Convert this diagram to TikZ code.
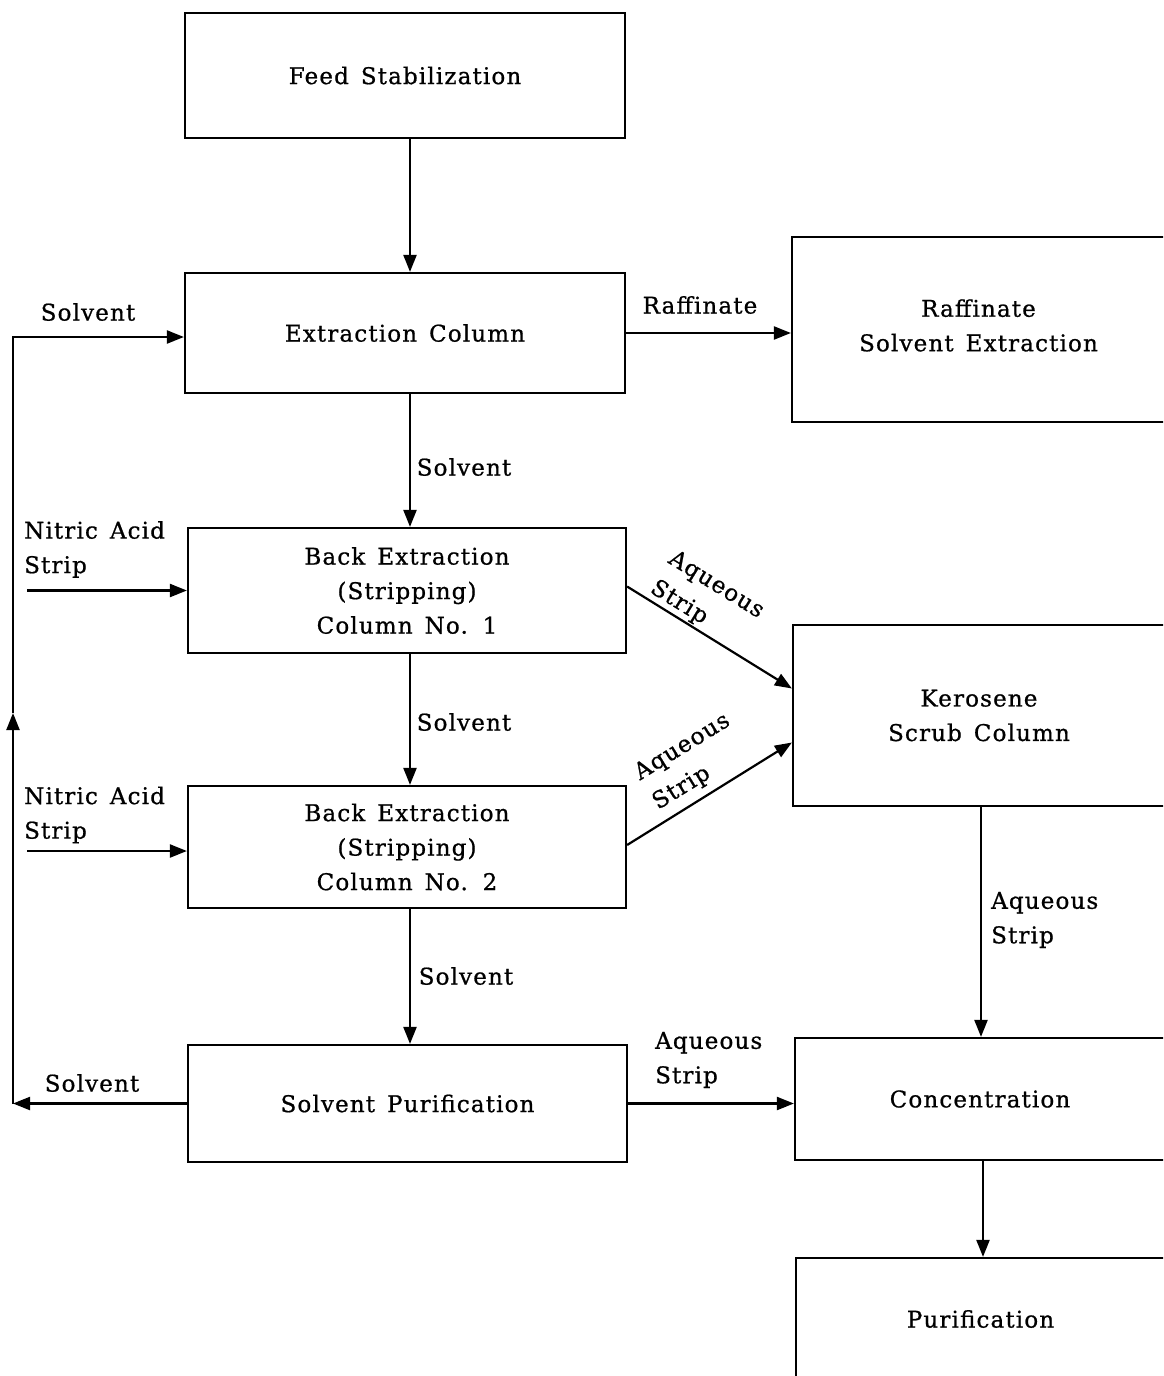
\documentclass[tikz,border=0pt]{standalone}
\usepackage{fontspec}
\setmainfont{DejaVu Serif}[LetterSpace=5, FakeBold=0.8]
\usetikzlibrary{arrows.meta}
\newcommand\diafont{\fontsize{23}{34.5}\selectfont\spaceskip=12pt plus 2pt}
\begin{document}
\begin{tikzpicture}[x=1pt,y=-1pt,
  box/.style={draw, line width=2.2pt, rectangle, inner sep=0pt, align=center, font=\diafont},
  lbl/.style={font=\diafont, inner sep=0pt, align=left},
  arr/.style={line width=2.2pt, -{Triangle[length=17pt,width=13pt]}},
  ln/.style={line width=2.2pt}]
\useasboundingbox (0,0) rectangle (1163,1376);
\fill[white] (0,0) rectangle (1163,1376);
\clip (0,0) rectangle (1163,1376);

% boxes
\node[box, minimum width=440pt, minimum height=125pt] (fs) at (405,75.5) {Feed Stabilization};
\node[box, minimum width=440pt, minimum height=120pt] (ec) at (405,333) {Extraction Column};
\node[box, minimum width=373pt, minimum height=185pt] (rse) at (978.5,329.5) {Raffinate\\Solvent Extraction\\[-26pt]\mbox{}};
\node[box, minimum width=438pt, minimum height=125pt] (be1) at (407,590.5) {Back Extraction\\(Stripping)\\Column No. 1};
\node[box, minimum width=372pt, minimum height=181pt] (ksc) at (979,715.5) {Kerosene\\Scrub Column};
\node[box, minimum width=438pt, minimum height=122pt] (be2) at (407,847) {Back Extraction\\(Stripping)\\Column No. 2};
\node[box, minimum width=439pt, minimum height=117pt] (sp) at (407.5,1103.5) {Solvent Purification};
\node[box, minimum width=370pt, minimum height=122pt] (conc) at (980,1099) {Concentration};
\node[box, minimum width=369pt, minimum height=122pt] (pur) at (980.5,1319) {Purification};

% helper coordinates
\coordinate (cx) at (410,0);
\coordinate (kx) at (981,0);
\coordinate (px) at (983,0);
\coordinate (na1) at (27,590.5);
\coordinate (na2) at (27,851);
\coordinate (bl) at (13,1103.5);
\coordinate (ml) at (13,713);
\coordinate (tl) at (13,337);

% main column arrows
\draw[arr] (fs.south -| cx) -- (ec.north -| cx);
\draw[arr] (ec.south -| cx) -- (be1.north -| cx);
\draw[arr] (be1.south -| cx) -- (be2.north -| cx);
\draw[arr] (be2.south -| cx) -- (sp.north -| cx);

% raffinate
\draw[arr] (ec.east) -- (ec.east -| rse.west);

% aqueous strips
\draw[arr] ([yshift=4pt]be1.east) -- ([yshift=27pt]ksc.west);
\draw[arr] ([yshift=2pt]be2.east) -- ([yshift=-27pt]ksc.west);
\draw[arr] (ksc.south -| kx) -- (conc.north -| kx);
\draw[arr] (sp.east) -- (sp.east -| conc.west);
\draw[arr] (conc.south -| px) -- (pur.north -| px);

% nitric acid
\draw[arr] (na1) -- (be1.west);
\draw[arr] (na2) -- (na2 -| be2.west);

% solvent recycle loop
\draw[arr] (sp.west) -- (bl);
\draw[arr] (bl) -- (ml);
\draw[arr] (ml) -- (tl) -- (tl -| ec.west);

% labels
\node[lbl] (l1) at (700,305) {Raffinate};
\node[lbl] (l2) at (464,467) {Solvent};
\node[lbl] (l3) at (464,722) {Solvent};
\node[lbl] (l4) at (466,976) {Solvent};
\node[lbl] (l5) at (88,312) {Solvent};
\node[lbl] (l6) at (92,1083) {Solvent};
\node[lbl, anchor=west] (l7) at (24,549.5) {Nitric Acid\\Strip};
\node[lbl, anchor=west] (l8) at (24,815) {Nitric Acid\\Strip};
\node[lbl, anchor=west] (l9) at (991,920) {Aqueous\\Strip};
\node[lbl, anchor=west] (l10) at (655,1060) {Aqueous\\Strip};
\node[lbl, rotate=-31.6] (l11) at (707,600) {Aqueous\\Strip};
\node[lbl, rotate=31.6] (l12) at (691.6,762) {Aqueous\\Strip};
\end{tikzpicture}
\end{document}
